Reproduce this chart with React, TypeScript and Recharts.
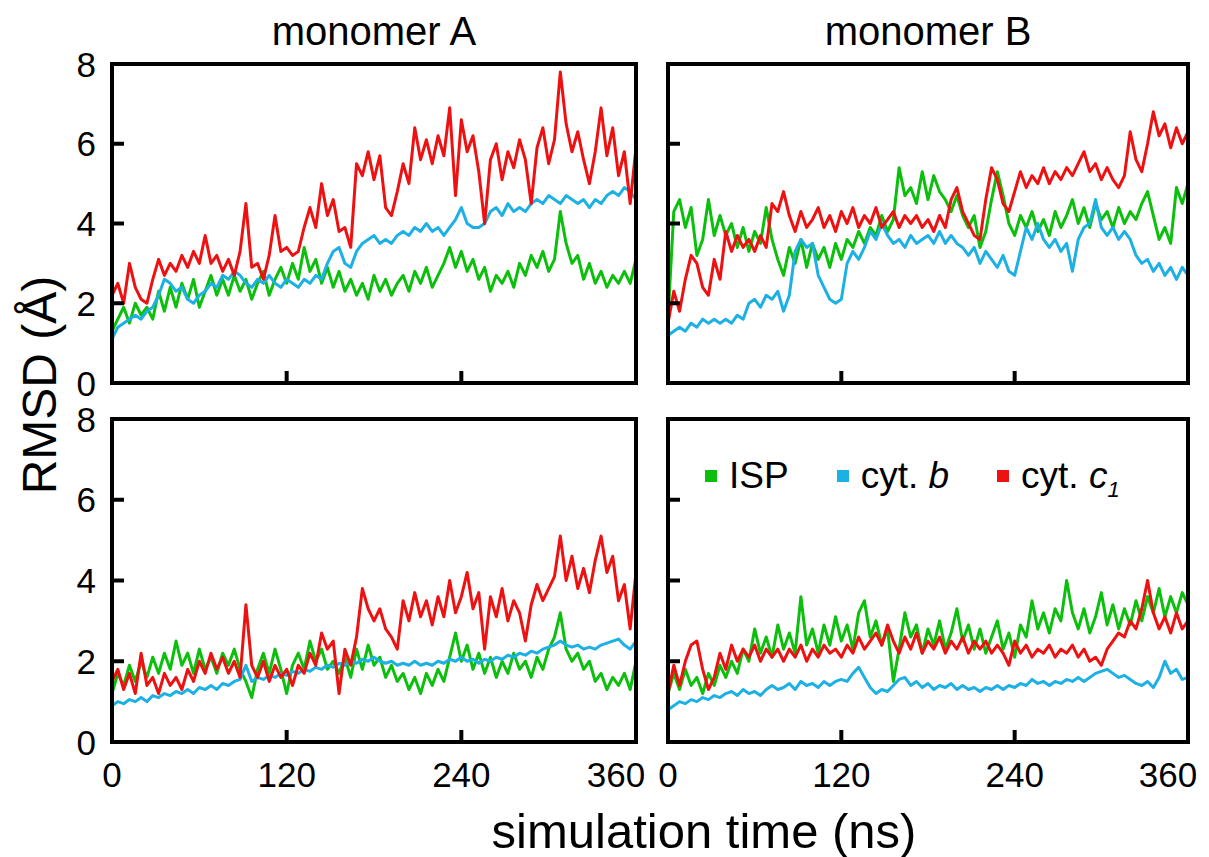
import React from "react";
import { LineChart, Line, XAxis, YAxis, Legend } from "recharts";

// simulation time (ns), sampled every 4 ns
const TIME = [
  0, 4, 8, 12, 16, 20, 24, 28, 32, 36,
  40, 44, 48, 52, 56, 60, 64, 68, 72, 76,
  80, 84, 88, 92, 96, 100, 104, 108, 112, 116,
  120, 124, 128, 132, 136, 140, 144, 148, 152, 156,
  160, 164, 168, 172, 176, 180, 184, 188, 192, 196,
  200, 204, 208, 212, 216, 220, 224, 228, 232, 236,
  240, 244, 248, 252, 256, 260, 264, 268, 272, 276,
  280, 284, 288, 292, 296, 300, 304, 308, 312, 316,
  320, 324, 328, 332, 336, 340, 344, 348, 352, 356,
  360,
];

const X_TICKS = [0, 120, 240, 360];
const Y_TICKS = [0, 2, 4, 6, 8];

// monomer A, top row
const A1_ISP = [
  1.3, 1.6, 1.9, 1.5, 2.0, 1.7, 1.9, 1.6, 2.3, 1.8,
  2.4, 1.9, 2.5, 2.1, 2.6, 1.9, 2.3, 2.7, 2.2, 2.6,
  2.2, 2.7, 2.3, 2.6, 2.1, 2.5, 2.8, 2.2, 2.6, 2.9,
  2.5, 3.0, 2.6, 3.4, 2.8, 3.1, 2.5, 2.9, 2.4, 2.8,
  2.3, 2.6, 2.2, 2.5, 2.1, 2.7, 2.3, 2.6, 2.2, 2.5,
  2.7, 2.3, 2.8, 2.5, 2.9, 2.4, 2.7, 3.0, 3.4, 2.9,
  3.3, 2.8, 3.1, 2.6, 2.9, 2.3, 2.7, 2.5, 2.8, 2.4,
  3.0, 2.7, 3.2, 2.9, 3.3, 2.8, 3.1, 4.3, 3.5, 3.0,
  3.2, 2.6, 3.0, 2.5, 2.8, 2.4, 2.7, 2.5, 2.8, 2.5,
  3.1,
];
const A1_CYTB = [
  1.1, 1.4, 1.5, 1.6, 1.7, 1.6, 1.8, 1.9, 2.2, 2.6,
  2.5, 2.3, 2.4, 2.1, 2.0, 2.2, 2.3, 2.5, 2.4, 2.7,
  2.6, 2.8, 2.7, 2.5, 2.4, 2.6, 2.5, 2.7, 2.5, 2.4,
  2.6, 2.5, 2.4, 2.6, 2.5, 2.7, 2.6, 3.0, 3.3, 3.4,
  3.0, 2.9, 3.3, 3.5, 3.6, 3.7, 3.5, 3.6, 3.5, 3.7,
  3.8, 3.7, 3.9, 3.8, 4.0, 3.8, 3.9, 3.7, 3.9, 4.1,
  4.4, 4.0, 3.9, 3.9, 4.0, 4.3, 4.4, 4.2, 4.5, 4.3,
  4.4, 4.3, 4.5, 4.6, 4.5, 4.7, 4.6, 4.5, 4.7, 4.6,
  4.5, 4.6, 4.4, 4.6, 4.5, 4.7, 4.8, 4.7, 4.9, 4.8,
  4.6,
];
const A1_CYTC1 = [
  2.2, 2.5, 2.0, 3.0, 2.4, 2.1, 2.0, 2.6, 3.1, 2.7,
  3.0, 2.8, 3.2, 2.9, 3.3, 3.0, 3.7, 3.0, 3.2, 2.8,
  3.1, 2.7, 3.3, 4.5, 2.9, 3.0, 2.6, 3.2, 4.2, 3.3,
  3.4, 3.2, 3.3, 3.9, 4.4, 3.9, 5.0, 4.2, 4.6, 3.8,
  3.9, 3.4, 5.5, 5.2, 5.8, 5.1, 5.7, 4.4, 4.2, 4.8,
  5.5, 5.0, 6.4, 5.6, 6.1, 5.5, 6.2, 5.7, 6.9, 4.7,
  6.6, 5.8, 6.2, 5.3, 4.0, 5.6, 6.0, 5.1, 5.8, 5.4,
  6.1, 5.6, 4.5, 5.9, 6.4, 5.5, 6.1, 7.8, 6.5, 5.8,
  6.3, 5.6, 5.0, 5.8, 6.9, 5.7, 6.4, 5.2, 5.8, 4.5,
  5.9,
];

// monomer B, top row
const B1_ISP = [
  1.6, 4.3, 4.6, 3.9, 4.4, 3.2, 3.6, 4.6, 3.7, 4.2,
  3.7, 4.0, 3.4, 3.9, 3.3, 3.8, 3.5, 4.4, 3.6, 3.1,
  2.7, 3.4, 3.0, 3.6, 2.9, 3.5, 3.1, 3.4, 2.9, 3.5,
  3.1, 3.6, 3.4, 3.8, 3.5, 3.9, 3.7, 4.2, 3.8, 4.1,
  5.4, 4.7, 4.9, 4.5, 5.3, 4.6, 5.2, 4.8, 4.6, 4.3,
  4.7, 4.2, 3.9, 4.2, 3.4, 3.8, 4.6, 5.3, 4.7, 4.0,
  3.7, 4.2, 3.9, 4.3, 3.8, 4.1, 3.7, 4.3, 3.9, 4.2,
  4.6, 4.0, 4.4, 3.9, 4.5, 4.1, 4.3, 3.9, 4.4, 4.0,
  4.3, 4.1, 4.5, 4.8, 4.2, 3.6, 3.9, 3.5, 4.9, 4.5,
  5.0,
];
const B1_CYTB = [
  1.2, 1.3, 1.4, 1.3, 1.5, 1.4, 1.6, 1.5, 1.6, 1.5,
  1.6, 1.5, 1.7, 1.6, 2.0, 2.1, 1.9, 2.2, 2.1, 2.3,
  1.8, 2.2, 3.3, 3.6, 3.4, 3.5, 2.7, 2.4, 2.1, 2.0,
  2.1, 3.0, 3.3, 3.1, 3.4, 3.8, 3.6, 4.0, 3.7, 3.5,
  3.6, 3.4, 3.7, 3.5, 3.6, 3.7, 3.5, 3.8, 3.5, 3.7,
  3.5, 3.4, 3.2, 3.4, 3.0, 3.3, 3.1, 2.9, 3.2, 2.8,
  2.7, 3.3, 3.9, 3.6, 4.0, 3.6, 3.4, 3.6, 3.3, 3.5,
  2.8, 3.6, 3.9, 4.0, 4.6, 3.9, 3.7, 3.9, 3.6, 3.8,
  3.6, 3.2, 3.0, 3.1, 2.8, 3.0, 2.7, 2.9, 2.6, 2.9,
  2.7,
];
const B1_CYTC1 = [
  1.5, 2.3, 1.8, 2.6, 3.2, 3.0, 2.4, 2.2, 3.1, 2.6,
  3.8, 3.3, 3.7, 3.4, 3.6, 3.3, 3.7, 3.4, 4.5, 4.3,
  4.8, 4.2, 3.8, 4.3, 3.9, 4.1, 4.4, 3.9, 4.2, 3.8,
  4.3, 4.0, 4.4, 3.9, 4.2, 4.0, 4.4, 3.9, 4.1, 4.3,
  3.9, 4.2, 4.0, 4.2, 3.9, 4.1, 3.8, 4.2, 3.9, 4.6,
  4.9, 4.3, 4.0, 3.7, 3.6, 4.6, 5.4, 5.1, 4.5, 4.3,
  4.8, 5.3, 4.9, 5.2, 5.0, 5.4, 5.0, 5.3, 5.1, 5.4,
  5.2, 5.5, 5.8, 5.3, 5.5, 5.1, 5.4, 5.1, 4.9, 5.2,
  6.3, 5.6, 5.3, 6.0, 6.8, 6.2, 6.5, 5.9, 6.4, 6.0,
  6.3,
];

// monomer A, bottom row
const A2_ISP = [
  1.2, 1.7, 1.4, 1.9, 1.5, 2.0, 1.6, 2.1, 1.7, 2.2,
  1.8, 2.5, 1.9, 2.2, 1.7, 2.3, 1.8, 2.1, 1.7, 2.2,
  1.9, 2.3, 1.8, 1.5, 1.1, 1.8, 2.2, 1.7, 2.3, 1.8,
  1.2, 1.9, 2.2, 1.8, 2.5, 2.0, 2.3, 1.8, 2.0, 1.7,
  2.1, 1.6, 2.3, 1.8, 2.4, 1.9, 2.1, 1.6, 1.9, 1.5,
  1.7, 1.3, 1.6, 1.2, 1.7, 1.4, 1.8, 1.5, 2.1, 2.7,
  2.0, 2.4, 1.8, 2.2, 1.7, 2.1, 1.6, 2.0, 1.7, 2.2,
  1.8, 2.0, 1.6, 2.1, 1.8, 2.3, 2.6, 3.2, 2.3, 2.0,
  2.2, 1.8, 2.0, 1.5, 1.7, 1.3, 1.6, 1.4, 1.7, 1.3,
  2.0,
];
const A2_CYTB = [
  0.9, 1.0, 0.95, 1.05, 1.0, 1.1, 1.0, 1.15, 1.1, 1.2,
  1.15, 1.25, 1.2, 1.3, 1.2, 1.35, 1.3, 1.4, 1.3, 1.45,
  1.4, 1.5, 1.55, 1.9, 1.5, 1.6, 1.55, 1.65, 1.6, 1.7,
  1.65, 1.75, 1.7, 1.8, 1.75, 1.85, 1.8, 1.9, 1.85, 1.95,
  1.9, 2.0, 1.95, 2.05, 2.0, 2.1, 2.0, 1.95, 2.0, 1.9,
  1.95, 1.9, 2.0, 1.9, 1.95, 1.9, 2.0, 1.95, 2.05, 2.0,
  2.1, 2.0, 2.05, 1.95, 2.05, 2.0, 2.1, 2.05, 2.15, 2.1,
  2.2, 2.15, 2.25, 2.2, 2.3, 2.35, 2.4, 2.5, 2.4, 2.35,
  2.4, 2.3, 2.35, 2.3, 2.4, 2.45, 2.5, 2.55, 2.4, 2.3,
  2.5,
];
const A2_CYTC1 = [
  1.5, 1.8, 1.3, 1.7, 1.2, 2.2, 1.4, 1.6, 1.2, 1.7,
  1.4, 1.6, 1.3, 1.8, 1.5, 2.0, 1.7, 2.2, 1.8, 2.1,
  1.7, 2.0, 1.6, 3.4, 1.9, 1.6, 2.0, 1.5, 1.9, 1.6,
  1.8, 1.4, 1.9, 1.7, 2.2, 1.9, 2.7, 2.3, 2.5, 1.2,
  2.3, 1.9, 2.6, 3.8, 3.3, 3.0, 3.3, 2.8, 2.6, 2.3,
  3.5, 3.0, 3.7, 3.1, 3.5, 2.9, 3.6, 3.1, 4.0, 3.2,
  3.6, 4.2, 3.3, 3.7, 2.3, 3.6, 3.1, 3.8, 3.0, 3.5,
  3.2, 2.5, 3.4, 3.9, 3.5, 3.8, 4.1, 5.1, 4.0, 4.6,
  3.8, 4.3, 3.7, 4.5, 5.1, 4.2, 4.6, 3.5, 3.9, 2.8,
  4.2,
];

// monomer B, bottom row
const B2_ISP = [
  1.2, 1.7, 1.3, 1.8, 1.4, 1.6, 1.2, 1.7, 1.4, 1.9,
  1.6, 2.0, 1.7, 2.3, 2.0, 2.8, 2.2, 2.6, 2.1, 2.9,
  2.3, 2.7, 2.2, 3.6, 2.4, 2.8, 2.2, 2.9, 2.4, 3.1,
  2.5, 2.9, 2.3, 3.2, 3.5, 2.6, 3.0, 2.4, 2.8, 1.5,
  2.3, 3.2, 2.6, 2.9, 2.2, 2.8, 2.4, 3.0, 2.3, 2.7,
  3.3, 2.5, 2.9, 2.3, 2.8, 2.2, 2.6, 3.0, 2.3, 2.7,
  2.1, 2.9, 2.6, 3.5, 2.8, 3.2, 2.7, 3.3, 3.0, 4.0,
  3.2, 2.8, 3.3, 2.7, 3.1, 3.7, 2.9, 3.4, 2.8, 3.3,
  2.9, 3.5, 3.0, 3.6, 3.2, 3.8, 3.1, 3.6, 3.2, 3.7,
  3.4,
];
const B2_CYTB = [
  0.8, 0.9, 1.0, 0.95, 1.05, 1.0, 1.1, 1.05, 1.15, 1.1,
  1.2, 1.25, 1.15, 1.3, 1.2, 1.25, 1.15, 1.3, 1.4, 1.3,
  1.35, 1.45, 1.3, 1.5, 1.4, 1.45, 1.35, 1.5, 1.4, 1.5,
  1.55, 1.5, 1.7, 1.85, 1.6, 1.35, 1.2, 1.3, 1.25, 1.4,
  1.55, 1.6, 1.4, 1.5, 1.35, 1.45, 1.3, 1.4, 1.35, 1.45,
  1.3, 1.4, 1.3, 1.35, 1.25, 1.35, 1.3, 1.4, 1.3, 1.4,
  1.35, 1.45, 1.4, 1.55, 1.45, 1.5, 1.4, 1.5, 1.45, 1.55,
  1.5, 1.6, 1.5, 1.6, 1.7, 1.75, 1.8, 1.7, 1.6, 1.65,
  1.55, 1.45, 1.4, 1.5, 1.35, 1.6, 2.0, 1.7, 1.8, 1.55,
  1.6,
];
const B2_CYTC1 = [
  1.2, 1.9, 1.4, 2.0, 2.4, 2.5, 1.8, 1.3, 1.6, 2.2,
  1.8, 2.4, 2.0, 2.3, 2.1, 2.4, 2.0, 2.3, 2.1, 2.3,
  2.0, 2.3, 2.1, 2.4, 2.0, 2.3, 2.1, 2.4, 2.2, 2.3,
  2.1, 2.4, 2.2, 2.6, 2.3, 2.5, 2.7, 2.4, 2.9, 2.5,
  2.2, 2.6, 2.3, 2.7, 2.2, 2.5, 2.3, 2.6, 2.2, 2.5,
  2.3, 2.6, 2.2, 2.5, 2.3, 2.5, 2.2, 2.4, 2.2, 1.9,
  2.5, 2.2, 2.4, 2.1, 2.3, 2.2, 2.4, 2.1, 2.3, 2.2,
  2.4, 2.1, 2.3, 2.0, 2.1, 1.9, 2.3, 2.5, 2.7, 2.6,
  3.0, 2.8, 3.3, 4.0, 3.2, 2.8, 3.1, 2.7, 3.2, 2.8,
  3.0,
];

const COLORS = { isp: "#0cbf0c", cytB: "#1cb0e4", cytC1: "#ee1111" };
const FONT = "'Liberation Sans', Arial, sans-serif";

type Row = { t: number; isp: number; cytB: number; cytC1: number };

const toRows = (isp: number[], cytB: number[], cytC1: number[]): Row[] =>
  TIME.map((t, i) => ({ t, isp: isp[i], cytB: cytB[i], cytC1: cytC1[i] }));

const XTick = (props: any) => {
  const { x, y, payload, showLabel } = props;
  const v = payload.value;
  const inner = v > 0 && v < 360;
  // last label sits left of the corner, like the original
  const shift = v === 360 ? -20 : 0;
  return (
    <g>
      {inner && <line x1={x} x2={x} y1={y} y2={y - 12} stroke="#000" strokeWidth={4} />}
      {showLabel && (
        <text x={x + shift} y={y + 20} dy="0.71em" textAnchor="middle" fontSize={35} fontFamily={FONT} fill="#000">
          {v}
        </text>
      )}
    </g>
  );
};

const YTick = (props: any) => {
  const { x, y, payload, showLabel } = props;
  const v = payload.value;
  const inner = v > 0 && v < 8;
  return (
    <g>
      {inner && <line x1={x} x2={x + 12} y1={y} y2={y} stroke="#000" strokeWidth={4} />}
      {showLabel && (
        <text x={x - 16} y={y} dy="0.36em" textAnchor="end" fontSize={35} fontFamily={FONT} fill="#000">
          {v}
        </text>
      )}
    </g>
  );
};

const LegendContent = (props: any) => {
  const { payload } = props;
  const label = (key: string) => {
    if (key === "cytB") return <>cyt. <i>b</i></>;
    if (key === "cytC1")
      return (
        <>
          cyt. <i>c</i>
          <i style={{ fontSize: 22, position: "relative", top: 9 }}>1</i>
        </>
      );
    return <>ISP</>;
  };
  return (
    <div style={{ display: "flex", alignItems: "center", fontFamily: FONT, fontSize: 37, lineHeight: 1 }}>
      {(payload || []).map((e: any, i: number) => (
        <div key={e.dataKey} style={{ display: "flex", alignItems: "center", marginLeft: i === 0 ? 0 : 48 }}>
          <span style={{ width: 12, height: 12, background: e.color, marginRight: 12, display: "inline-block" }} />
          <span>{label(e.dataKey)}</span>
        </div>
      ))}
    </div>
  );
};

const axisLine = { stroke: "#000", strokeWidth: 4, strokeLinecap: "square" as const };

type PanelProps = {
  left: number;
  top: number;
  width: number;
  height: number;
  margin: { top: number; right: number; bottom: number; left: number };
  data: Row[];
  xLabels: boolean;
  yLabels: boolean;
  legend?: boolean;
};

// axes get a 1px box (a zero-size axis is not drawn), margins make up for it
const Panel = ({ left, top, width, height, margin, data, xLabels, yLabels, legend }: PanelProps) => (
  <div style={{ position: "absolute", left, top }}>
    <LineChart
      width={width}
      height={height}
      data={data}
      margin={{ top: margin.top - 1, right: margin.right - 1, bottom: margin.bottom - 1, left: margin.left - 1 }}
    >
      <XAxis
        xAxisId="b"
        dataKey="t"
        type="number"
        domain={[0, 360]}
        ticks={X_TICKS}
        interval={0}
        height={1}
        tickSize={0}
        tickMargin={0}
        tickLine={false}
        axisLine={axisLine}
        tick={(p: any) => <XTick {...p} showLabel={xLabels} />}
      />
      <XAxis xAxisId="t" orientation="top" dataKey="t" type="number" domain={[0, 360]} height={1} tick={false} tickLine={false} axisLine={axisLine} />
      <YAxis
        yAxisId="l"
        type="number"
        domain={[0, 8]}
        ticks={Y_TICKS}
        interval={0}
        width={1}
        tickSize={0}
        tickMargin={0}
        tickLine={false}
        axisLine={axisLine}
        tick={(p: any) => <YTick {...p} showLabel={yLabels} />}
      />
      <YAxis yAxisId="r" orientation="right" type="number" domain={[0, 8]} width={1} tick={false} tickLine={false} axisLine={axisLine} />
      <Line xAxisId="b" yAxisId="l" dataKey="isp" name="ISP" type="linear" stroke={COLORS.isp} strokeWidth={3} strokeLinejoin="round" dot={false} isAnimationActive={false} />
      <Line xAxisId="b" yAxisId="l" dataKey="cytB" name="cyt. b" type="linear" stroke={COLORS.cytB} strokeWidth={3} strokeLinejoin="round" dot={false} isAnimationActive={false} />
      <Line xAxisId="b" yAxisId="l" dataKey="cytC1" name="cyt. c1" type="linear" stroke={COLORS.cytC1} strokeWidth={3} strokeLinejoin="round" dot={false} isAnimationActive={false} />
      {legend && (
        <Legend
          layout="horizontal"
          verticalAlign="middle"
          align="center"
          content={LegendContent}
          wrapperStyle={{ position: "absolute", top: 57, left: 55, width: "auto" }}
        />
      )}
    </LineChart>
  </div>
);

export default function App() {
  const a1 = toRows(A1_ISP, A1_CYTB, A1_CYTC1);
  const b1 = toRows(B1_ISP, B1_CYTB, B1_CYTC1);
  const a2 = toRows(A2_ISP, A2_CYTB, A2_CYTC1);
  const b2 = toRows(B2_ISP, B2_CYTB, B2_CYTC1);

  return (
    <div style={{ position: "absolute", left: 0, top: 0, width: 1209, height: 857, background: "#fff", fontFamily: FONT }}>
      <Panel left={0} top={0} width={650} height={412} margin={{ top: 64, right: 14, bottom: 29, left: 112 }} data={a1} xLabels={false} yLabels={true} />
      <Panel left={650} top={0} width={559} height={412} margin={{ top: 64, right: 21, bottom: 29, left: 18 }} data={b1} xLabels={false} yLabels={false} />
      <Panel left={0} top={400} width={650} height={400} margin={{ top: 19, right: 14, bottom: 58, left: 112 }} data={a2} xLabels={true} yLabels={true} />
      <Panel left={650} top={400} width={559} height={400} margin={{ top: 19, right: 21, bottom: 58, left: 18 }} data={b2} xLabels={true} yLabels={false} legend />
      <svg width={1209} height={857} style={{ position: "absolute", left: 0, top: 0, pointerEvents: "none" }}>
        <text x={374} y={45} textAnchor="middle" fontSize={40} fontFamily={FONT} fill="#000">monomer A</text>
        <text x={928} y={45} textAnchor="middle" fontSize={40} fontFamily={FONT} fill="#000">monomer B</text>
        <text x={56} y={385} textAnchor="middle" fontSize={48} fontFamily={FONT} fill="#000" transform="rotate(-90 56 385)">RMSD (Å)</text>
        <text x={704} y={848} textAnchor="middle" fontSize={49} fontFamily={FONT} fill="#000">simulation time (ns)</text>
      </svg>
    </div>
  );
}
